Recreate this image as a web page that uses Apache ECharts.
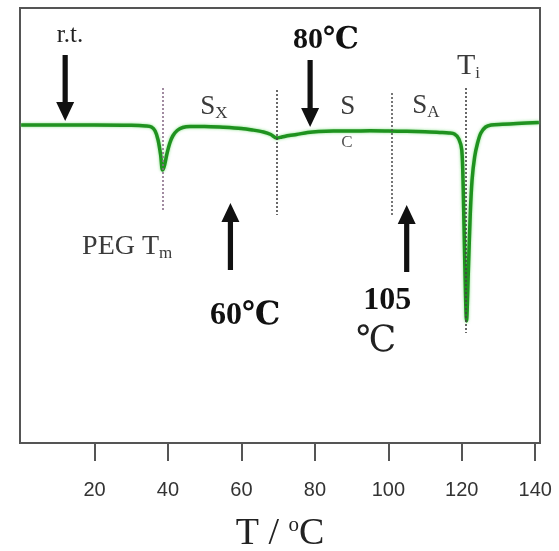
<!DOCTYPE html>
<html>
<head>
<meta charset="utf-8">
<script src="https://cdn.jsdelivr.net/npm/echarts@6/dist/echarts.min.js"></script>
<style>
  html, body { margin: 0; padding: 0; background: #ffffff; }
  #chart { width: 559px; height: 551px; }
</style>
</head>
<body>
<div id="chart"></div>
<script>
// DSC heating trace: temperature (°C) and heat flow (arb. units, endotherm down)
const temperature = [0, 10, 20, 30, 34, 35.5, 36.5, 37.3, 38, 38.5, 39, 39.7, 40.5, 41.3, 42.5, 44, 46, 50,
  55, 60, 63, 66, 68, 69.6, 71, 73, 75, 78, 81, 85, 90, 95, 100, 105, 110, 114, 116.5, 118, 119.2,
  120, 120.4, 120.8, 121.3, 121.8, 122.3, 122.8, 123.5, 124.3, 125.2, 126.5, 128, 131, 135, 141];
const heatFlow = [0, 0, 0, -0.03, -0.1, -0.2, -0.6, -1.5, -3.0, -4.5, -4.1, -2.9, -1.8, -1.1, -0.55, -0.25, -0.15, -0.15,
  -0.23, -0.35, -0.5, -0.7, -0.95, -1.3, -1.2, -1.05, -0.95, -0.75, -0.65, -0.6, -0.6, -0.58, -0.6, -0.63, -0.68, -0.75, -0.8, -0.9, -1.4,
  -2.5, -6.5, -13.5, -19.6, -14.5, -9.0, -5.5, -3.2, -1.8, -0.8, -0.2, 0, 0.07, 0.15, 0.25];
const tickValues = [20, 40, 60, 80, 100, 120, 140];

// Phase boundaries (°C) and the vertical extent of each dotted marker
const transitionT = [38.7, 69.7, 100.8, 121.2];
const transitionTop = [3.7, 3.5, 3.2, 3.7];
const transitionBottom = [-8.7, -9.0, -9.0, -20.8];
const transitionColor = ['#8a6f8a', '#444444', '#555555', '#444444'];

// Arrows: temperature, tail and tip heat-flow values
const arrowT = [12, 78.7, 57, 105];
const arrowTail = [7.0, 6.5, -14.5, -14.7];
const arrowTip = [0.4, -0.2, -7.8, -8.0];

const SERIF = "'Liberation Serif', 'DejaVu Serif', serif";

const chart = echarts.init(document.getElementById('chart'));

const xy = temperature.map((t, i) => [t, heatFlow[i]]);

const markLines = transitionT.map((t, i) => [
  { coord: [t, transitionTop[i]], lineStyle: { color: transitionColor[i] } },
  { coord: [t, transitionBottom[i]] }
]);

chart.setOption({
  backgroundColor: '#ffffff',
  animation: false,
  grid: {
    left: 20, right: 19, top: 8, bottom: 108,
    containLabel: false,
    outerBoundsMode: 'none',
    show: true, borderColor: '#555555', borderWidth: 2, backgroundColor: 'transparent'
  },
  xAxis: {
    type: 'value',
    min: -0.3, max: 141.3,
    name: '{t|T / }{s|o}{t|C}',
    nameLocation: 'middle',
    nameGap: 72,
    nameTextStyle: {
      rich: {
        t: { fontFamily: SERIF, fontSize: 38, color: '#222222' },
        s: { fontFamily: SERIF, fontSize: 21, color: '#222222', verticalAlign: 'top', padding: [0, 0, 15, 0] }
      }
    },
    axisLine: { show: true, onZero: false, lineStyle: { color: '#555555', width: 2 } },
    axisTick: { show: true, inside: false, length: 18, customValues: tickValues, lineStyle: { color: '#555555', width: 2 } },
    axisLabel: { customValues: tickValues, margin: 37, fontFamily: "'Liberation Sans', Arial, sans-serif", fontSize: 20, color: '#333333' },
    splitLine: { show: false }
  },
  yAxis: {
    type: 'value',
    min: -31.8, max: 11.7,
    show: false,
    splitLine: { show: false }
  },
  series: [{
    type: 'line',
    data: xy,
    smooth: 0.3,
    showSymbol: false,
    lineStyle: { color: '#1f921f', width: 3.5, shadowColor: 'rgba(80,210,80,0.7)', shadowBlur: 3 },
    markLine: {
      silent: true,
      symbol: ['none', 'none'],
      label: { show: false },
      lineStyle: { type: [2, 2], width: 1.6, color: '#444444' },
      data: markLines
    }
  }]
});

function px(t, v) { return chart.convertToPixel({ gridIndex: 0 }, [t, v]); }

const graphics = [];

// Thick black arrows with triangular heads
arrowT.forEach((t, i) => {
  const a = px(t, arrowTail[i]);
  const b = px(t, arrowTip[i]);
  const dir = b[1] > a[1] ? 1 : -1;
  const headLen = 19, headHalf = 9, shaftHalf = 2.6;
  const baseY = b[1] - dir * headLen;
  graphics.push({
    type: 'polygon',
    shape: { points: [
      [a[0] - shaftHalf, a[1]], [a[0] + shaftHalf, a[1]],
      [a[0] + shaftHalf, baseY], [a[0] + headHalf, baseY],
      [b[0], b[1]],
      [a[0] - headHalf, baseY], [a[0] - shaftHalf, baseY]
    ] },
    style: { fill: '#111111' },
    z: 10
  });
});

function label(t, v, text, opts) {
  const p = px(t, v);
  graphics.push({
    type: 'text',
    x: p[0], y: p[1],
    style: Object.assign({
      text: text,
      fontFamily: SERIF,
      fill: '#333333',
      align: 'center',
      verticalAlign: 'middle'
    }, opts),
    z: 11
  });
}

const subRich = (big, small, drop) => ({
  a: { fontFamily: SERIF, fontSize: big, fill: '#3a3a3a' },
  b: { fontFamily: SERIF, fontSize: small, fill: '#3a3a3a', padding: [drop, 0, 0, 0] }
});

label(13.3, 9.0, 'r.t.', { fontSize: 25, fill: '#222222' });
label(83.0, 8.5, '80℃', { fontSize: 30, fontWeight: 'bold', fill: '#111111' });
label(48.8, 1.8, '{a|S}{b|X}', { align: 'left', rich: subRich(27, 17, 14) });
label(86.9, 1.8, 'S', { align: 'left', fontSize: 27, fill: '#3a3a3a' });
label(87.2, -1.8, 'C', { align: 'left', fontSize: 17, fill: '#555555' });
label(106.5, 1.9, '{a|S}{b|A}', { align: 'left', rich: subRich(27, 17, 14) });
label(118.7, 5.9, '{a|T}{b|i}', { align: 'left', rich: subRich(30, 17, 16) });
label(16.6, -12.2, '{a|PEG T}{b|m}', { align: 'left', rich: subRich(28, 17, 14) });
label(61.0, -19.1, '60℃', { fontSize: 32, fontWeight: 'bold', fill: '#111111' });
label(99.7, -17.6, '105', { fontSize: 32, fontWeight: 'bold', fill: '#111111' });
label(96.7, -21.7, '℃', { fontSize: 36, fill: '#222222' });

chart.setOption({ graphic: graphics });
</script>
</body>
</html>
